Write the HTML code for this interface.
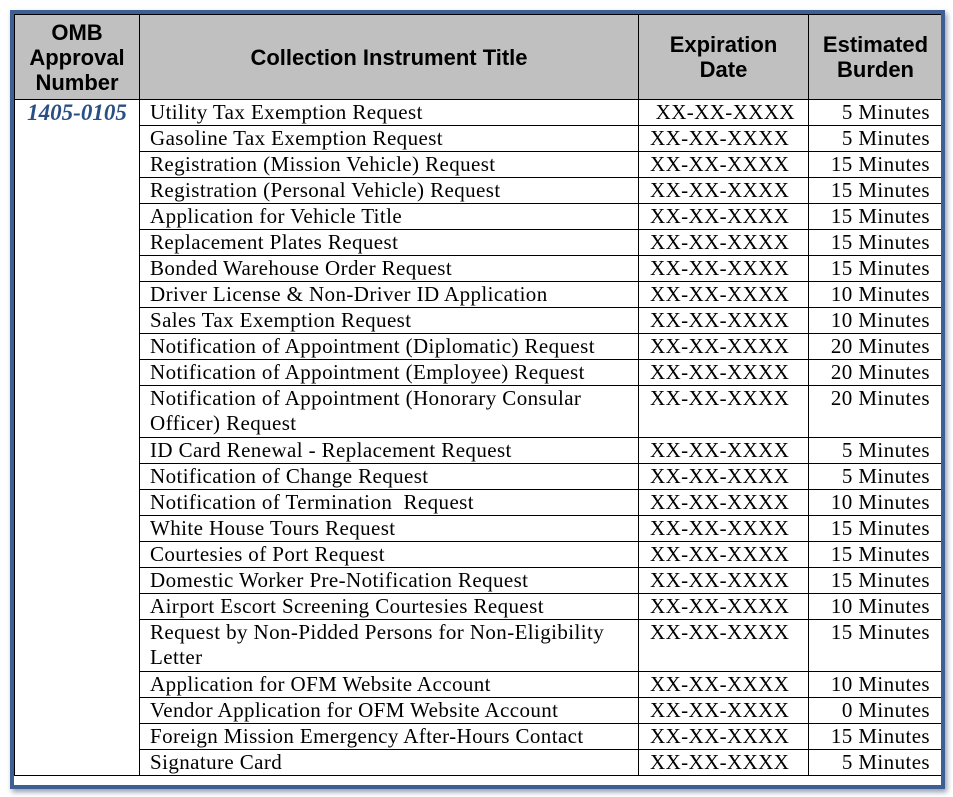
<!DOCTYPE html>
<html><head><style>
body{margin:0;width:953px;height:797px;background:#fff;position:relative;overflow:hidden}
.frame{position:absolute;left:10px;top:10px;width:927px;height:771px;border:4px solid #3d5f93;box-shadow:2px 3px 5px rgba(40,60,100,.5);overflow:hidden;background:#fff}
table{position:absolute;left:0;top:0;border-collapse:collapse;table-layout:fixed;width:940px}
td,th{border:1px solid #000;padding:0;vertical-align:top}
th{background:#c0c0c0;font:bold 22px/25px "Liberation Sans",sans-serif;height:84px;vertical-align:middle;text-align:center}
td{font:21px/25px "Liberation Serif",serif;letter-spacing:0.4px;height:25px;white-space:nowrap}
td.t{padding-left:10px}
td.d{padding-left:11px}
td.m{text-align:right;padding-right:24px}
td.n{font:bold italic 23px/25px "Liberation Serif",serif;letter-spacing:0;color:#2a4f84;text-align:center}
td.two{height:51px}
</style></head><body>
<div class="frame">
<table>
<colgroup><col style="width:125px"><col style="width:499px"><col style="width:170px"><col style="width:146px"></colgroup>
<tr><th>OMB<br>Approval<br>Number</th><th>Collection Instrument Title</th><th>Expiration<br>Date</th><th style="padding-right:12px">Estimated<br>Burden</th></tr>
<tr><td class="n" rowspan="25">1405-0105</td><td class="t">Utility Tax Exemption Request</td><td class="d">&nbsp;XX-XX-XXXX</td><td class="m">5 Minutes</td></tr>
<tr><td class="t">Gasoline Tax Exemption Request</td><td class="d">XX-XX-XXXX</td><td class="m">5 Minutes</td></tr>
<tr><td class="t">Registration (Mission Vehicle) Request</td><td class="d">XX-XX-XXXX</td><td class="m">15 Minutes</td></tr>
<tr><td class="t">Registration (Personal Vehicle) Request</td><td class="d">XX-XX-XXXX</td><td class="m">15 Minutes</td></tr>
<tr><td class="t">Application for Vehicle Title</td><td class="d">XX-XX-XXXX</td><td class="m">15 Minutes</td></tr>
<tr><td class="t">Replacement Plates Request</td><td class="d">XX-XX-XXXX</td><td class="m">15 Minutes</td></tr>
<tr><td class="t">Bonded Warehouse Order Request</td><td class="d">XX-XX-XXXX</td><td class="m">15 Minutes</td></tr>
<tr><td class="t">Driver License &amp; Non-Driver ID Application</td><td class="d">XX-XX-XXXX</td><td class="m">10 Minutes</td></tr>
<tr><td class="t">Sales Tax Exemption Request</td><td class="d">XX-XX-XXXX</td><td class="m">10 Minutes</td></tr>
<tr><td class="t">Notification of Appointment (Diplomatic) Request</td><td class="d">XX-XX-XXXX</td><td class="m">20 Minutes</td></tr>
<tr><td class="t">Notification of Appointment (Employee) Request</td><td class="d">XX-XX-XXXX</td><td class="m">20 Minutes</td></tr>
<tr><td class="t two">Notification of Appointment (Honorary Consular<br>Officer) Request</td><td class="d">XX-XX-XXXX</td><td class="m">20 Minutes</td></tr>
<tr><td class="t">ID Card Renewal - Replacement Request</td><td class="d">XX-XX-XXXX</td><td class="m">5 Minutes</td></tr>
<tr><td class="t">Notification of Change Request</td><td class="d">XX-XX-XXXX</td><td class="m">5 Minutes</td></tr>
<tr><td class="t">Notification of Termination &nbsp;Request</td><td class="d">XX-XX-XXXX</td><td class="m">10 Minutes</td></tr>
<tr><td class="t">White House Tours Request</td><td class="d">XX-XX-XXXX</td><td class="m">15 Minutes</td></tr>
<tr><td class="t">Courtesies of Port Request</td><td class="d">XX-XX-XXXX</td><td class="m">15 Minutes</td></tr>
<tr><td class="t">Domestic Worker Pre-Notification Request</td><td class="d">XX-XX-XXXX</td><td class="m">15 Minutes</td></tr>
<tr><td class="t">Airport Escort Screening Courtesies Request</td><td class="d">XX-XX-XXXX</td><td class="m">10 Minutes</td></tr>
<tr><td class="t two">Request by Non-Pidded Persons for Non-Eligibility<br>Letter</td><td class="d">XX-XX-XXXX</td><td class="m">15 Minutes</td></tr>
<tr><td class="t">Application for OFM Website Account</td><td class="d">XX-XX-XXXX</td><td class="m">10 Minutes</td></tr>
<tr><td class="t">Vendor Application for OFM Website Account</td><td class="d">XX-XX-XXXX</td><td class="m">0 Minutes</td></tr>
<tr><td class="t">Foreign Mission Emergency After-Hours Contact</td><td class="d">XX-XX-XXXX</td><td class="m">15 Minutes</td></tr>
<tr><td class="t">Signature Card</td><td class="d">XX-XX-XXXX</td><td class="m">5 Minutes</td></tr>
</table>
</div>
</body></html>
